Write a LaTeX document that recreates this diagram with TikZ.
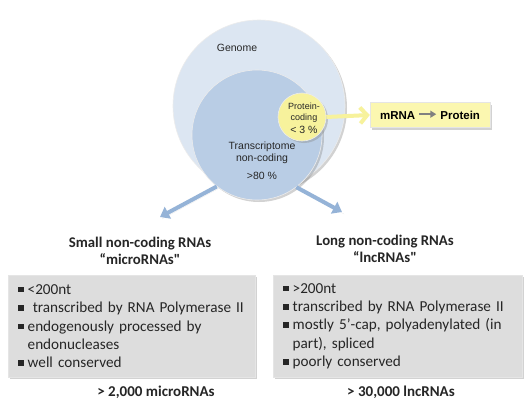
\documentclass[tikz,border=0pt]{standalone}
\usepackage{fontspec}
\setmainfont{Carlito}
\newfontfamily\arialfont{Liberation Sans}
\usetikzlibrary{arrows.meta,shadows,positioning}

\definecolor{genomeblue}{HTML}{DCE6F2}
\definecolor{transblue}{HTML}{B9CDE5}
\definecolor{codeyellow}{HTML}{F7F29C}
\definecolor{mrnayellow}{HTML}{FBF7B0}
\definecolor{arrowblue}{HTML}{95B3D7}
\definecolor{boxgray}{HTML}{DDDDDD}

% small square bullet
\newcommand{\sqb}{\rule[2pt]{5.5pt}{5.5pt}\hspace{4pt}}
% grey arrow between mRNA and Protein
\newcommand{\transl}{\raisebox{1.5pt}{\tikz\draw[gray, line width=1.8pt, -{Triangle[length=6pt,width=7pt]}] (0pt,0pt) -- (17pt,0pt);}}

\tikzset{
  softshadow/.style={drop shadow={shadow xshift=2pt, shadow yshift=-2pt, opacity=0.35, fill=gray}},
  setcircle/.style={circle, inner sep=0pt, draw=white!85!gray, line width=0.6pt, softshadow},
  circlabel/.style={font=\arialfont\fontsize{10.5}{12.5}\selectfont, align=center, text=black!85},
  blobarrow/.style={arrowblue, line width=4pt, -{Triangle[width=13pt,length=9pt]}, softshadow},
  classtitle/.style={font=\bfseries\fontsize{14.8}{17}\selectfont, align=center, text=black!85},
  infobox/.style={rectangle, fill=boxgray, draw=white!80!gray, softshadow, anchor=north west,
    minimum height=102pt, inner xsep=10pt, inner ysep=4pt, align=left,
    font=\fontsize{15.2}{18.3}\selectfont, text=black!85},
  countlabel/.style={font=\bfseries\fontsize{15}{16}\selectfont, text=black!85}
}

\begin{document}
\begin{tikzpicture}[x=1pt, y=-1pt]
  \useasboundingbox[fill=white] (0,0) rectangle (531,408);
  % nested sets
  \node[setcircle, fill=genomeblue, minimum size=172pt] (genome) at (259,106) {};
  \node[setcircle, fill=transblue, minimum size=130pt] (trans) at (257,135) {};
  \node[setcircle, fill=codeyellow, minimum size=48pt, drop shadow={opacity=0}] (coding) at (302,117) {};
  \node[circlabel] (genomelbl) at (237,48) {Genome};
  \node[circlabel, font=\arialfont\fontsize{9}{11}\selectfont] (codinglbl) at (304,118) {Protein-\\coding\\[2pt]{\fontsize{10.5}{12}\selectfont< 3 \%}};
  \node[circlabel] (translbl) at (262,153) {Transcriptome\\non-coding};
  \node[circlabel] (pctlbl) at (262,176) {>80 \%};
  % coding branch
  \node[rectangle, fill=mrnayellow, draw=white!80!gray, softshadow, minimum width=120pt, minimum height=25pt,
    font=\arialfont\bfseries\fontsize{11.5}{13}\selectfont] (mrna) at (430,115)
    {mRNA \transl\ Protein};
  \draw[codeyellow, line width=4pt, -{Straight Barb[length=7pt,width=16pt]}] (coding.east) -- (mrna.west);
  % non-coding branches
  \coordinate (smalltip) at (160,217);
  \coordinate (longtip) at (342,212);
  \draw[blobarrow] (trans.232) -- (smalltip);
  \draw[blobarrow] (trans.-53) -- (longtip);
  \node[classtitle] (smallttl) at (140,251) {Small non-coding RNAs\\“microRNAs\textquotedbl};
  \node[classtitle] (longttl) at (385,249) {Long non-coding RNAs\\“lncRNAs\textquotedbl};
  % property boxes
  \node[infobox, minimum width=247pt, text width=227pt] (smallbox) at (8,275)
    {\sqb<200nt\\
     \sqb\ transcribed by RNA Polymerase II\\
     \sqb endogenously processed by\\
     \hspace*{9.5pt}endonucleases\\
     \sqb well conserved};
  \node[infobox, minimum width=249pt, text width=229pt] (longbox) at (273,275)
    {\sqb>200nt\\
     \sqb transcribed by RNA Polymerase II\\
     \sqb mostly 5’-cap, polyadenylated (in\\
     \hspace*{9.5pt}part), spliced\\
     \sqb poorly conserved};
  \node[countlabel] (smallcnt) at (156,392) {> 2,000 microRNAs};
  \node[countlabel] (longcnt) at (401,392) {> 30,000 lncRNAs};
\end{tikzpicture}
\end{document}
